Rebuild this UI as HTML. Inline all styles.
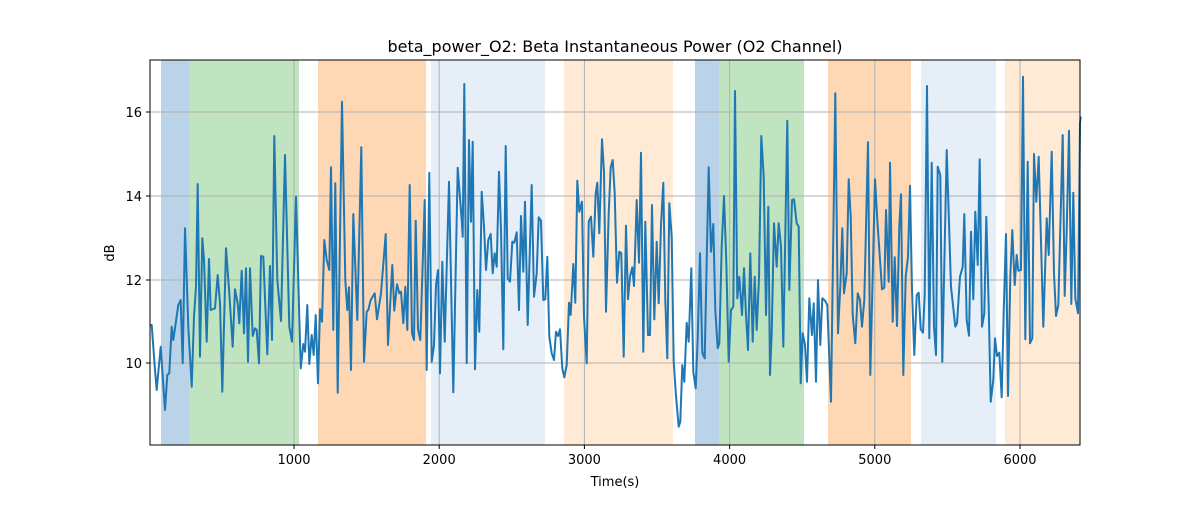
<!DOCTYPE html>
<html><head><meta charset="utf-8"><style>
body{margin:0;background:#fff;width:1200px;height:500px;overflow:hidden}
text{font-family:"DejaVu Sans","Liberation Sans",sans-serif;fill:#000}
</style></head><body>
<svg id="s" width="1200" height="500" xmlns="http://www.w3.org/2000/svg">
<g id="spans"></g><g id="grid"></g>
<polyline id="line" fill="none" stroke="#1f77b4" stroke-width="2" stroke-linejoin="round"/>
<rect x="150" y="60" width="930" height="385" fill="none" stroke="#000" stroke-width="1"/>
<g id="ticks"></g>
<text x="615" y="52" font-size="16" text-anchor="middle">beta_power_O2: Beta Instantaneous Power (O2 Channel)</text>
<text x="615" y="486" font-size="13" text-anchor="middle">Time(s)</text>
<text x="0" y="0" font-size="13" text-anchor="middle" transform="translate(114,253) rotate(-90)">dB</text>
</svg>
<script>
const NS="http://www.w3.org/2000/svg";
function el(p,t,a,txt){const e=document.createElementNS(NS,t);for(const k in a)e.setAttribute(k,a[k]);if(txt)e.textContent=txt;p.appendChild(e);return e;}
const sp=document.getElementById('spans');
[[161,189,'#bad3e8'],[189,299,'#c0e3c0'],[318,426,'#fed7b5'],[431,545,'#e6eef8'],[564,673,'#ffead6'],[695,719,'#bad3e8'],[719,804,'#c0e3c0'],[828,911,'#fed7b5'],[921,996,'#e6eef8'],[1005,1080,'#ffead6']].forEach(s=>el(sp,'rect',{x:s[0],y:60,width:s[1]-s[0],height:385,fill:s[2]}));
const g=document.getElementById('grid'),tk=document.getElementById('ticks');
for(let i=1;i<=6;i++){const x=148.8+i*145.2;el(g,'line',{x1:x,x2:x,y1:60,y2:445,stroke:'#b0b0b0','stroke-width':1});el(tk,'line',{x1:x,x2:x,y1:445,y2:449,stroke:'#000'});el(tk,'text',{x:x,y:464,'font-size':13,'text-anchor':'middle'},String(i*1000));}
[[10,363],[12,280],[14,196],[16,112]].forEach(v=>{el(g,'line',{x1:150,x2:1080,y1:v[1],y2:v[1],stroke:'#b0b0b0','stroke-width':1});el(tk,'line',{x1:146,x2:150,y1:v[1],y2:v[1],stroke:'#000'});el(tk,'text',{x:142,y:v[1]+5,'font-size':13,'text-anchor':'end'},String(v[0]));});
const z1=[5,795,15,930,20,990,32,860,45,1050,52,945,58,940,65,800,70,840,85,735,92,720,98,910,105,505,115,800,125,980,132,770,138,680,143,372,150,890,157,535,162,600,170,845,177,597,182,750,195,745,203,645,210,730,217,995,228,565,238,700,248,860,255,688,263,730,268,790,275,632,282,820,288,625,294,905,300,625,308,828,315,805,320,810,327,910,333,588,340,590,352,883,360,618,366,840,373,228,382,660,393,783,405,285,418,800,426,845,438,410,452,925,460,852,465,875,472,735,478,912,485,825,491,885,497,765,504,970,510,748,516,785,523,540,530,600,538,630,543,322,550,810,556,370,563,998,576,125,586,660,592,750,597,682,603,930,610,462,622,780,634,262,642,905,650,755,655,750,662,720,674,700,681,778,693,700,707,522,714,855,727,615,733,752,741,673,748,700,753,695,760,790,766,680,772,810,779,375,786,820,792,840,797,482,804,808,811,840,824,420,830,930,838,338,845,905,852,855,858,675,864,630,870,940,877,605,884,845,897,365,910,997,923,323];
const z2=[5,480,8,530,13,72,20,910,27,240,33,485,38,245,45,928,52,690,58,815,65,395,72,500,78,630,85,540,92,522,98,640,104,580,110,620,117,335,123,510,130,868,137,258,143,655,150,665,157,545,163,548,170,517,177,750,183,468,190,635,195,425,203,795,215,375,222,710,230,640,236,472,243,482,250,720,256,718,262,590,268,830,275,880,282,900,288,815,294,828,300,808,307,925,313,952,320,915,327,728,332,765,340,612,346,728,352,362,358,455,366,425,372,770,380,910,386,485,393,470,400,590,407,400,412,368,418,520,426,238,432,335,438,755,446,460,452,322,458,300,464,400,471,668,478,575,484,580,491,890,498,497,504,718,510,650,517,622,522,678,530,420,537,608,543,278,550,875,556,485,564,825,570,825,576,435,583,778,590,545,596,730,603,495,610,368,616,720,622,895,628,430,635,530,641,905,648,1008,656,1100,661,1085,667,915,673,965,680,788,686,845,694,625,700,935,707,985,713,835,720,580,727,878,734,895,740,600,746,322,753,575,760,492,766,750,773,865,778,850,785,560,792,408,799,605,806,905,813,750,820,740,825,93,832,715,838,650,846,765,852,625,858,765,864,870,871,580,878,845,884,650,890,810,897,655,904,228,911,350,918,765,925,440];
const z3=[0,945,5,820,12,490,20,620,26,490,33,560,40,860,52,182,58,690,66,420,72,418,80,490,86,500,92,970,98,820,105,855,111,965,118,715,126,825,131,730,138,965,144,660,151,855,157,715,165,722,172,735,183,1025,196,100,204,820,211,680,217,505,222,700,230,640,236,358,242,470,248,765,256,850,263,700,270,720,276,800,283,720,294,247,301,945,315,358,322,480,336,688,343,683,348,450,356,665,360,308,368,785,374,592,381,798,388,500,393,403,400,945,407,650,414,590,420,377,426,690,433,885,440,705,446,698,452,808,459,818,464,703,471,78,478,835,485,308,492,800,498,885,503,320,511,345,517,905,530,270,543,680,556,800,561,790,570,650,578,620,583,462,590,780,597,827,603,515,610,718,616,455,623,615,629,298,636,800,643,760,649,470,656,740,662,1025,670,960,675,835,681,888,688,878,695,1012,701,755,708,522,714,1008,721,650,727,510,734,675,740,585,745,632,753,630,759,50,766,838,773,305,780,850,787,835,792,282,799,425,806,290,820,800,830,475,836,585,845,275,852,640,858,768,865,735,878,225,884,708,890,510,897,212,904,732,910,398,916,715,924,760,930,190,932,170];
let pts=[[150,325]];
function add(a,x0){for(let i=0;i<a.length;i+=2)pts.push([x0+a[i]/3,60+a[i+1]/3]);}
add(z1,150);add(z2,460);add(z3,770);
document.getElementById('line').setAttribute('points',pts.map(p=>p[0].toFixed(1)+','+p[1].toFixed(1)).join(' '));
</script>
</body></html>
